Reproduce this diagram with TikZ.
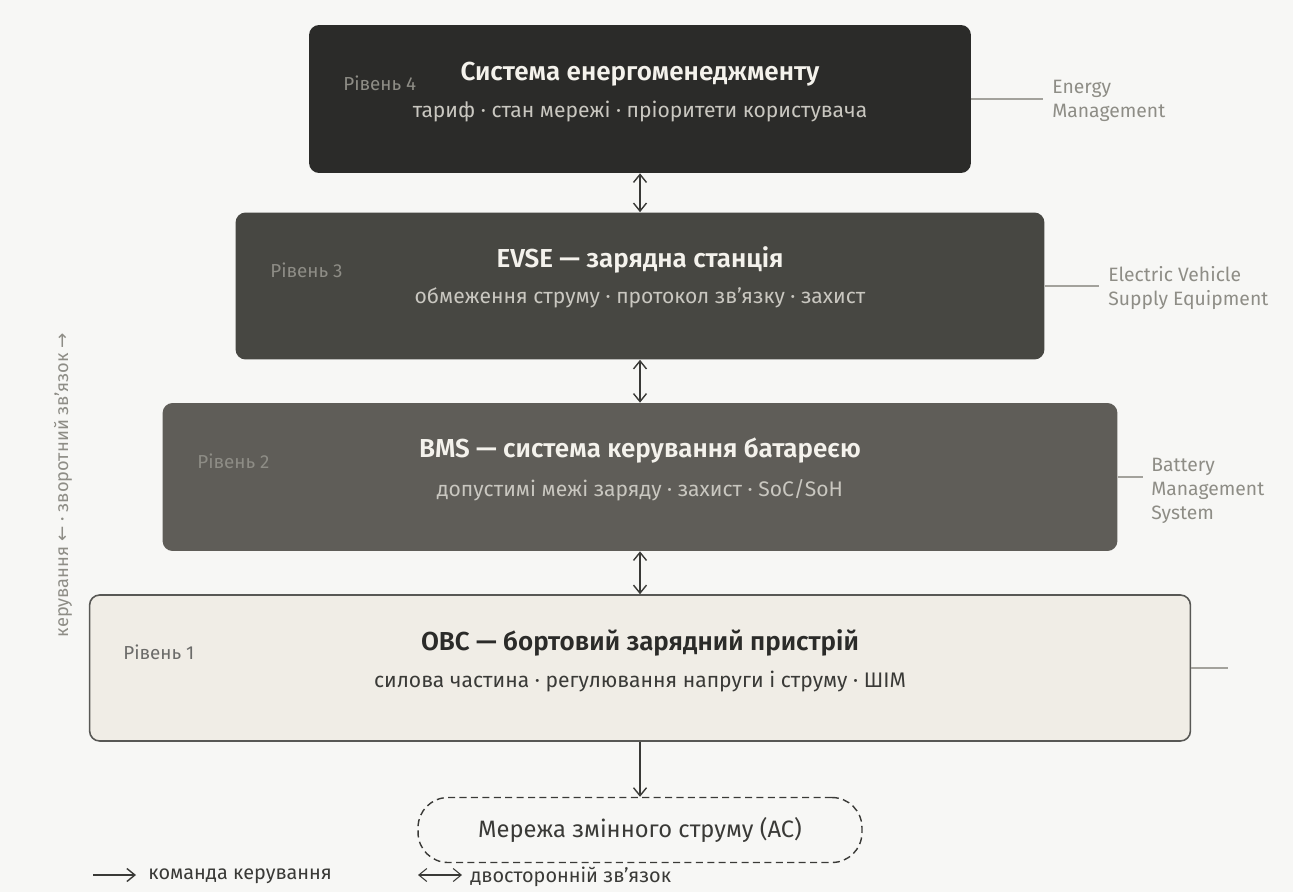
\documentclass[tikz,border=0pt]{standalone}
\usepackage{fontspec}
\setmainfont{Fira Sans}
\newfontfamily\semibold{Fira Sans SemiBold}
\newfontfamily\arrowfont{DejaVu Sans}
\usetikzlibrary{arrows.meta,positioning}

\definecolor{paper}{HTML}{F7F7F5}
\definecolor{lvlfour}{HTML}{2B2B29}
\definecolor{lvlthree}{HTML}{474742}
\definecolor{lvltwo}{HTML}{5F5D58}
\definecolor{lvlone}{HTML}{F0EDE6}
\definecolor{inkdark}{HTML}{3A3A37}
\definecolor{inkgray}{HTML}{8E8D86}
\definecolor{inklight}{HTML}{C9C7C0}
\definecolor{inkpale}{HTML}{F4F2EC}
\definecolor{rulegray}{HTML}{A3A29C}

\begin{document}
\begin{tikzpicture}[
        x=0.02cm, y=-0.02cm,
        levelbox/.style={rectangle, rounded corners=0.2cm, inner sep=0pt, draw=none},
        leveltitle/.style={font=\fontsize{14.8}{17}\semibold, text=inkpale, inner sep=0pt},
        levelsub/.style={font=\fontsize{12}{14}\selectfont, text=inklight, inner sep=0pt},
        levelno/.style={anchor=west, font=\fontsize{10.7}{12}\selectfont, text=inkgray, inner sep=0pt},
        sidenote/.style={anchor=west, align=left, font=\fontsize{11}{13.5}\selectfont, text=inkgray, inner sep=0pt},
        sideline/.style={draw=rulegray, line width=0.6pt},
        biarrow/.style={draw=inkdark, line width=0.8pt, {Straight Barb[length=1.6mm, width=2.6mm]}-{Straight Barb[length=1.6mm, width=2.6mm]}},
        cmdarrow/.style={draw=inkdark, line width=0.8pt, -{Straight Barb[length=1.6mm, width=2.6mm]}},
        legendtext/.style={anchor=west, font=\fontsize{11.3}{13}\selectfont, text=inkdark, inner sep=0pt},
    ]
    % canvas
    \fill[paper] (0,0) rectangle (1293,892);

    % Column x-position of the stack axis
    \def\cx{640}

    % ===== Level boxes =====
    \node[levelbox, fill=lvlfour,  minimum width=13.24cm, minimum height=2.96cm] (lvl4) at (\cx, 99) {};
    \node[levelbox, fill=lvlthree, minimum width=16.18cm, minimum height=2.94cm] (lvl3) at (\cx, 286) {};
    \node[levelbox, fill=lvltwo,   minimum width=19.10cm, minimum height=2.96cm] (lvl2) at (\cx, 477) {};
    \node[levelbox, fill=lvlone, draw=inkdark!85, line width=0.9pt,
          minimum width=22.02cm, minimum height=2.92cm] (lvl1) at (\cx, 668) {};

    % Level 4: energy management
    \node[levelno] (no4) at (343, 83) {Рівень 4};
    \node[leveltitle] (t4) at (\cx, 74) {Система енергоменеджменту};
    \node[levelsub] (s4) at (\cx, 112) {тариф · стан мережі · пріоритети користувача};

    % Level 3: EVSE
    \node[levelno] (no3) at (270, 270) {Рівень 3};
    \node[leveltitle] (t3) at (\cx, 260) {EVSE — зарядна станція};
    \node[levelsub] (s3) at (\cx, 298) {обмеження струму · протокол зв’язку · захист};

    % Level 2: BMS
    \node[levelno] (no2) at (197, 461) {Рівень 2};
    \node[leveltitle] (t2) at (\cx, 451) {BMS — система керування батареєю};
    \node[levelsub] (s2) at (\cx, 490) {допустимі межі заряду · захист · SoC/SoH};

    % Level 1: OBC (light box)
    \node[levelno, text=inkdark!75] (no1) at (123, 652) {Рівень 1};
    \node[leveltitle, text=lvlfour] (t1) at (\cx, 643) {OBC — бортовий зарядний пристрій};
    \node[levelsub, text=inkdark] (s1) at (\cx, 682) {силова частина · регулювання напруги і струму · ШІМ};

    % ===== AC grid =====
    \node[rectangle, rounded corners=0.6cm, draw=inkdark, dash pattern=on 4pt off 2.5pt, line width=0.8pt,
          minimum width=8.88cm, minimum height=1.30cm, inner sep=0pt,
          font=\fontsize{13.5}{15}\selectfont, text=inkdark] (acgrid) at (\cx, 830) {Мережа змінного струму (АС)};

    % ===== Links between levels =====
    \draw[biarrow] (lvl4.south) -- (lvl3.north);
    \draw[biarrow] (lvl3.south) -- (lvl2.north);
    \draw[biarrow] (lvl2.south) -- (lvl1.north);
    \draw[cmdarrow] (lvl1.south) -- (acgrid.north);

    % ===== Side notes =====
    \coordinate (e4) at (1043, 99);
    \coordinate (e3) at (1099, 286);
    \coordinate (e2) at (1143, 477);
    \coordinate (e1) at (1228, 668);
    \draw[sideline] (lvl4.east |- e4) -- (e4);
    \draw[sideline] (lvl3.east |- e3) -- (e3);
    \draw[sideline] (lvl2.east |- e2) -- (e2);
    \draw[sideline] (lvl1.east |- e1) -- (e1);
    \node[sidenote] (n4) at (1052, 101) {Energy\\Management};
    \node[sidenote] (n3) at (1108, 288) {Electric Vehicle\\Supply Equipment};
    \node[sidenote] (n2) at (1151, 491) {Battery\\Management\\System};

    % vertical hint on the left
    \node[rotate=90, font=\fontsize{10.4}{12}\selectfont, text=inkgray, inner sep=0pt] (flow) at (63, 485)
        {керування {\arrowfont ←} · зворотний зв’язок {\arrowfont →}};

    % ===== Legend =====
    \coordinate (lgA) at (93, 875);  \coordinate (lgB) at (136, 875);
    \coordinate (lgC) at (418, 875); \coordinate (lgD) at (462, 875);
    \draw[cmdarrow] (lgA) -- (lgB);
    \node[legendtext] (lgcmd) at (148, 876) {команда керування};
    \draw[biarrow, line width=0.6pt] (lgC) -- (lgD);
    \node[legendtext] (lgbi) at (470, 877) {двосторонній зв’язок};

\end{tikzpicture}
\end{document}
